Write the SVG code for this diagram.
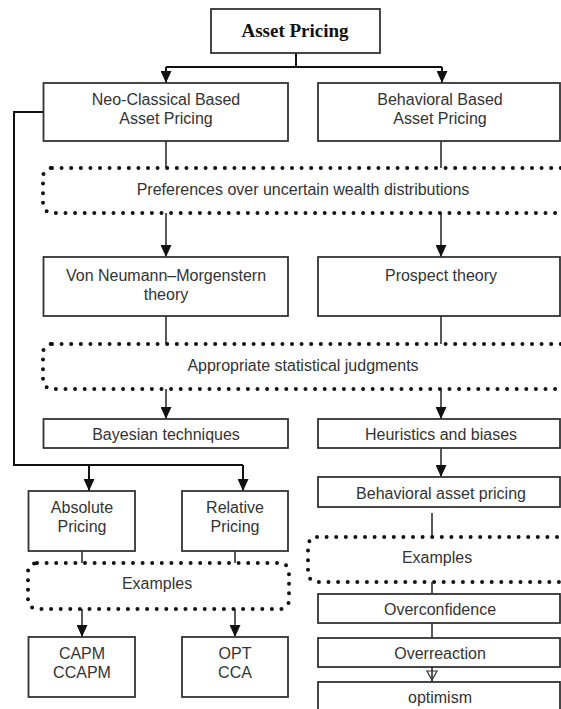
<svg xmlns="http://www.w3.org/2000/svg" width="561" height="709" viewBox="0 0 561 709">
<defs>
<style>
.box{fill:#fff;stroke:#333;stroke-width:1.8}
.dot{fill:none;stroke:#111;stroke-width:4;stroke-linecap:round;stroke-dasharray:0 9.6}
.t{font-family:"Liberation Sans",Arial,sans-serif;font-size:16px;fill:#333;text-anchor:middle}
.title{font-family:"Liberation Serif","Times New Roman",serif;font-size:19px;font-weight:bold;fill:#111;text-anchor:middle}
.ln{fill:none;stroke:#222;stroke-width:1.5}
.lnb{fill:none;stroke:#111;stroke-width:2}
</style>
<marker id="ah" markerWidth="12" markerHeight="11" refX="12" refY="5.5" orient="auto" markerUnits="userSpaceOnUse" viewBox="0 0 12 11">
<path d="M0,0 L12,5.5 L0,11 Z" fill="#111"/>
</marker>
</defs>
<rect width="561" height="709" fill="#fff"/>

<g id="connectors">
<path class="lnb" d="M296,53 V67 M166,67 H442"/>
<path class="lnb" d="M166,67 V83" marker-end="url(#ah)"/>
<path class="lnb" d="M442,67 V83" marker-end="url(#ah)"/>
<path class="ln" d="M166,141 V168 M441,141 V168"/>
<path class="ln" d="M166,213 V257" marker-end="url(#ah)"/>
<path class="ln" d="M441,213 V257" marker-end="url(#ah)"/>
<path class="ln" d="M166,316 V344 M441,316 V344"/>
<path class="ln" d="M166,389 V419" marker-end="url(#ah)"/>
<path class="ln" d="M441,389 V419" marker-end="url(#ah)"/>
<path class="ln" d="M441,448 V477" marker-end="url(#ah)"/>
<path class="lnb" d="M43,112 H14 V465 H243"/>
<path class="lnb" d="M89,465 V491" marker-end="url(#ah)"/>
<path class="lnb" d="M243,465 V491" marker-end="url(#ah)"/>
<path class="ln" d="M82,551 V563 M235,551 V563"/>
<path class="ln" d="M82,609 V637" marker-end="url(#ah)"/>
<path class="ln" d="M235,609 V637" marker-end="url(#ah)"/>
<path class="ln" d="M432,513 V537 M432,582 V594 M432,623 V638"/>
<path class="ln" d="M432,667 V682"/>
<path d="M427,671 L437,671 L432,680 Z" fill="none" stroke="#333" stroke-width="1.2"/>
</g>

<g id="n-asset-pricing">
<rect class="box" x="211" y="9" width="169" height="44"/>
<text class="title" x="295" y="37">Asset Pricing</text>
</g>

<g id="n-neoclassical">
<rect class="box" x="43.5" y="83" width="244.5" height="58"/>
<text class="t" x="166" y="105">Neo-Classical Based</text>
<text class="t" x="166" y="124">Asset Pricing</text>
</g>

<g id="n-behavioral">
<rect class="box" x="318" y="83" width="242" height="58"/>
<text class="t" x="440" y="105">Behavioral Based</text>
<text class="t" x="440" y="124">Asset Pricing</text>
</g>

<g id="n-preferences">
<rect class="dot" x="43" y="168" width="530" height="45" rx="9"/>
<text class="t" x="303" y="195">Preferences over uncertain wealth distributions</text>
</g>

<g id="n-vnm">
<rect class="box" x="43.5" y="257" width="244.5" height="59"/>
<text class="t" x="166" y="281">Von Neumann–Morgenstern</text>
<text class="t" x="166" y="300">theory</text>
</g>

<g id="n-prospect">
<rect class="box" x="318" y="257" width="242" height="59"/>
<text class="t" x="441" y="281">Prospect theory</text>
</g>

<g id="n-statistical">
<rect class="dot" x="43" y="344" width="530" height="45" rx="9"/>
<text class="t" x="303" y="371">Appropriate statistical judgments</text>
</g>

<g id="n-bayesian">
<rect class="box" x="43.5" y="419" width="244.5" height="29"/>
<text class="t" x="166" y="440">Bayesian techniques</text>
</g>

<g id="n-heuristics">
<rect class="box" x="318" y="419" width="242" height="29"/>
<text class="t" x="441" y="440">Heuristics and biases</text>
</g>

<g id="n-behavioral-asset">
<rect class="box" x="318" y="477" width="242" height="30"/>
<text class="t" x="441" y="499">Behavioral asset pricing</text>
</g>

<g id="n-absolute">
<rect class="box" x="28.5" y="491" width="106.5" height="60"/>
<text class="t" x="82" y="513">Absolute</text>
<text class="t" x="82" y="532">Pricing</text>
</g>

<g id="n-relative">
<rect class="box" x="182" y="491" width="106" height="60"/>
<text class="t" x="235" y="513">Relative</text>
<text class="t" x="235" y="532">Pricing</text>
</g>

<g id="n-examples-left">
<rect class="dot" x="28" y="563" width="261" height="46" rx="9"/>
<text class="t" x="157" y="589">Examples</text>
</g>

<g id="n-examples-right">
<rect class="dot" x="308" y="537" width="265" height="45" rx="9"/>
<text class="t" x="437" y="563">Examples</text>
</g>

<g id="n-capm">
<rect class="box" x="28.5" y="637" width="106.5" height="60"/>
<text class="t" x="82" y="659">CAPM</text>
<text class="t" x="82" y="678">CCAPM</text>
</g>

<g id="n-opt">
<rect class="box" x="182" y="637" width="106" height="60"/>
<text class="t" x="235" y="659">OPT</text>
<text class="t" x="235" y="678">CCA</text>
</g>

<g id="n-overconfidence">
<rect class="box" x="318" y="594" width="242" height="29"/>
<text class="t" x="440" y="615">Overconfidence</text>
</g>

<g id="n-overreaction">
<rect class="box" x="318" y="638" width="242" height="29"/>
<text class="t" x="440" y="659">Overreaction</text>
</g>

<g id="n-optimism">
<rect class="box" x="318" y="682" width="242" height="40"/>
<text class="t" x="440" y="703">optimism</text>
</g>
</svg>
